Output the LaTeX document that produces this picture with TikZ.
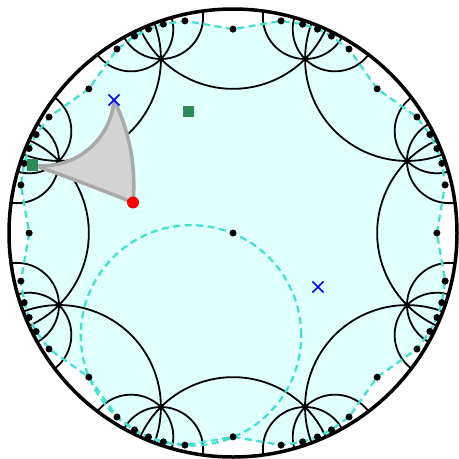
\documentclass[tikz,border=0pt]{standalone}
\usepackage{tikz}
\usetikzlibrary{shapes.misc}
\definecolor{lightcyanfill}{HTML}{E0FFFF}
\definecolor{turq}{HTML}{40E0D0}
\definecolor{seagreen}{HTML}{2E8B57}
\definecolor{trifill}{HTML}{D3D3D3}
\definecolor{triedge}{HTML}{A9A9A9}

% full geodesic between the ideal points at angles #1 < #2
\newcommand{\idealgeo}[2]{%
  \draw[tileline] ({#1}:1) arc[start angle={(#1)-90}, delta angle={(#2)-(#1)-180},
    radius={tan(((#2)-(#1))/2)}];}

% geodesic arc from (#1,#2) to (#3,#4), kept in \geoarcpath
\newcommand{\geoarc}[4]{%
  \pgfmathsetmacro\geop{(1+(#1)*(#1)+(#2)*(#2))/2}%
  \pgfmathsetmacro\geoq{(1+(#3)*(#3)+(#4)*(#4))/2}%
  \pgfmathsetmacro\geodet{(#1)*(#4)-(#2)*(#3)}%
  \pgfmathsetmacro\geox{((\geop)*(#4)-(#2)*(\geoq))/(\geodet)}%
  \pgfmathsetmacro\geoy{((#1)*(\geoq)-(#3)*(\geop))/(\geodet)}%
  \pgfmathsetmacro\georho{veclen((#1)-(\geox),(#2)-(\geoy))}%
  \pgfmathsetmacro\geota{atan2((#2)-(\geoy),(#1)-(\geox))}%
  \pgfmathsetmacro\geotb{atan2((#4)-(\geoy),(#3)-(\geox))}%
  \pgfmathsetmacro\geodel{mod((\geotb)-(\geota)+540,360)-180}%
  \xdef\geoarcpath{arc[start angle=\geota, delta angle=\geodel, radius=\georho] -- (#3,#4)}%
}

\begin{document}
\begin{tikzpicture}[scale=7.9022,
    tileline/.style={line width=1.8bp, black},
    dashline/.style={turq, line width=2.2bp, dash pattern=on 7bp off 4.5bp},
    dot/.style={circle, fill=black, inner sep=0pt, minimum size=7bp},
    tri/.style={fill=trifill, draw=triedge, line width=3.5bp, line join=round},
    cross/.style={cross out, draw=blue, line width=1.6bp, inner sep=0pt, minimum size=9.5bp},
    sq/.style={rectangle, fill=seagreen, inner sep=0pt, minimum size=11bp},
    reddot/.style={circle, fill=red, inner sep=0pt, minimum size=12bp}]
  \useasboundingbox (-1.0402,-1.0089) rectangle (1.0089,1.0402);

  % Polygon through the neighbouring centres
  \gdef\cyanpath{}
  \foreach \k in {0,...,7}{
    \foreach \off/\rad in {12.763/0.97102,18.435/0.98270,22.5/0.98517,26.565/0.98270,32.237/0.97102,45/0.91018}{
      \pgfmathsetmacro\nang{45*\k+\off}
      \xdef\cyanpath{\cyanpath -- (\nang:\rad)}
    }
  }
  \fill[lightcyanfill] (0:0.91018) \cyanpath -- cycle;

  % Tiling lines
  \foreach \k in {0,...,7}{
    \idealgeo{45*\k-24.47}{45*\k+24.47}
    \idealgeo{45*\k+7.759}{45*\k+29.111}
    \idealgeo{45*\k+15.889}{45*\k+37.241}
  }

  \draw[dashline] (0:0.91018) \cyanpath -- cycle;
  \draw[dashline] (-0.1875,-0.457) circle[radius=0.492];

  % Boundary
  \draw[line width=3.5bp] (0,0) circle[radius=1];

  % Triangle
  \geoarc{-0.5313}{0.5938}{-0.4464}{0.1362}\let\triab\geoarcpath
  \geoarc{-0.4464}{0.1362}{-0.8929}{0.3036}\let\tribc\geoarcpath
  \geoarc{-0.8929}{0.3036}{-0.5313}{0.5938}\let\trica\geoarcpath
  \filldraw[tri] (-0.5313,0.5938) \triab \tribc \trica -- cycle;

  % Centres
  \node[dot] (o) at (0,0) {};
  \foreach \k in {0,...,7}
    \foreach \off/\rad [count=\j] in {0/0.91018,12.763/0.97102,18.435/0.98270,22.5/0.98517,26.565/0.98270,32.237/0.97102}
      \node[dot] (c\k-\j) at ({45*\k+\off}:\rad) {};

  % Markers
  \node[cross] (xa) at (-0.5313,0.5938) {};
  \node[cross] (xb) at (0.3795,-0.2411) {};
  \node[sq] (sa) at (-0.2009,0.5446) {};
  \node[sq] (sb) at (-0.8929,0.3036) {};
  \node[reddot] (rd) at (-0.4464,0.1362) {};
\end{tikzpicture}
\end{document}
